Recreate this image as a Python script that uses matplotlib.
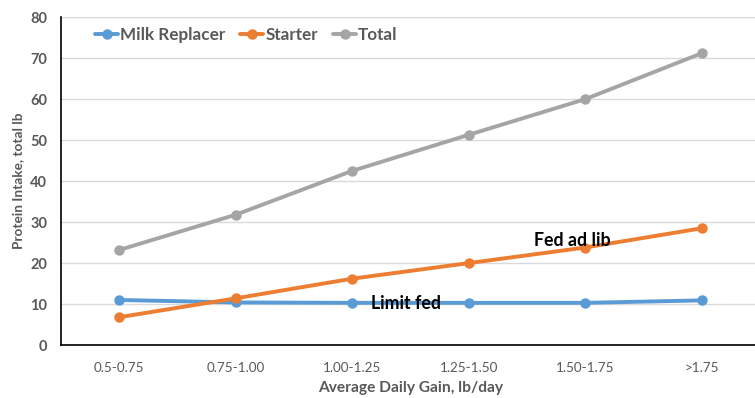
import matplotlib
matplotlib.use("Agg")
import matplotlib.pyplot as plt
import numpy as np

categories = ["0.5-0.75", "0.75-1.00", "1.00-1.25", "1.25-1.50", "1.50-1.75", ">1.75"]
milk_replacer = [11.0, 10.4, 10.3, 10.3, 10.3, 10.9]
starter = [6.8, 11.4, 16.2, 20.0, 23.8, 28.5]
total = [23.2, 31.8, 42.5, 51.3, 60.0, 71.2]

plt.rcParams["font.family"] = ["Lato", "DejaVu Sans"]
text_grey = "#595959"

fig = plt.figure(figsize=(7.55, 3.98), dpi=100)
ax = fig.add_axes([0.0808, 0.133, 0.926, 0.824])

x = np.arange(len(categories))
series = [
    ("Milk Replacer", milk_replacer, "#5B9BD5"),
    ("Starter", starter, "#ED7D31"),
    ("Total", total, "#A5A5A5"),
]
for name, vals, col in series:
    ax.plot(x, vals, color=col, lw=2.8, marker="o", ms=6.5, label=name,
            solid_capstyle="round", zorder=3)

ax.set_xlim(-0.5, len(categories) - 0.5)
ax.set_ylim(0, 80)
ax.set_yticks(range(0, 81, 10))
ax.set_xticks(x)
ax.set_xticklabels(categories, fontsize=9.7, color=text_grey)
for lbl in ax.get_yticklabels():
    lbl.set_fontweight("bold")
    lbl.set_fontsize(10.5)
    lbl.set_color(text_grey)
ax.tick_params(axis="both", length=0)
ax.tick_params(axis="x", pad=12)
ax.tick_params(axis="y", pad=10)

ax.grid(axis="y", color="#D9D9D9", lw=1)
ax.set_axisbelow(True)
for side in ["top", "right"]:
    ax.spines[side].set_visible(False)
ax.spines["left"].set_color("black")
ax.spines["bottom"].set_color("black")
ax.spines["left"].set_linewidth(1.2)
ax.spines["bottom"].set_linewidth(1.2)

ax.set_xlabel("Average Daily Gain, lb/day", fontsize=11.2, fontweight="bold",
              color=text_grey, labelpad=5)
ax.set_ylabel("Protein Intake, total lb", fontsize=9.8, fontweight="bold",
              color=text_grey, labelpad=4)

leg = ax.legend(loc="center left", bbox_to_anchor=(0.0486, 0.945), ncol=3,
                frameon=False, borderpad=0, borderaxespad=0,
                handlelength=1.35, handletextpad=0.1, columnspacing=0.9,
                prop={"weight": "bold", "size": 12.3})
for t in leg.get_texts():
    t.set_color(text_grey)

ax.text(3.89, 25.6, "Fed ad lib", fontsize=12.8, fontweight="bold",
        ha="center", va="center", zorder=4)
ax.text(2.46, 10.2, "Limit fed", fontsize=12.8, fontweight="bold",
        ha="center", va="center", zorder=4)

fig.savefig("out.png", dpi=100)
